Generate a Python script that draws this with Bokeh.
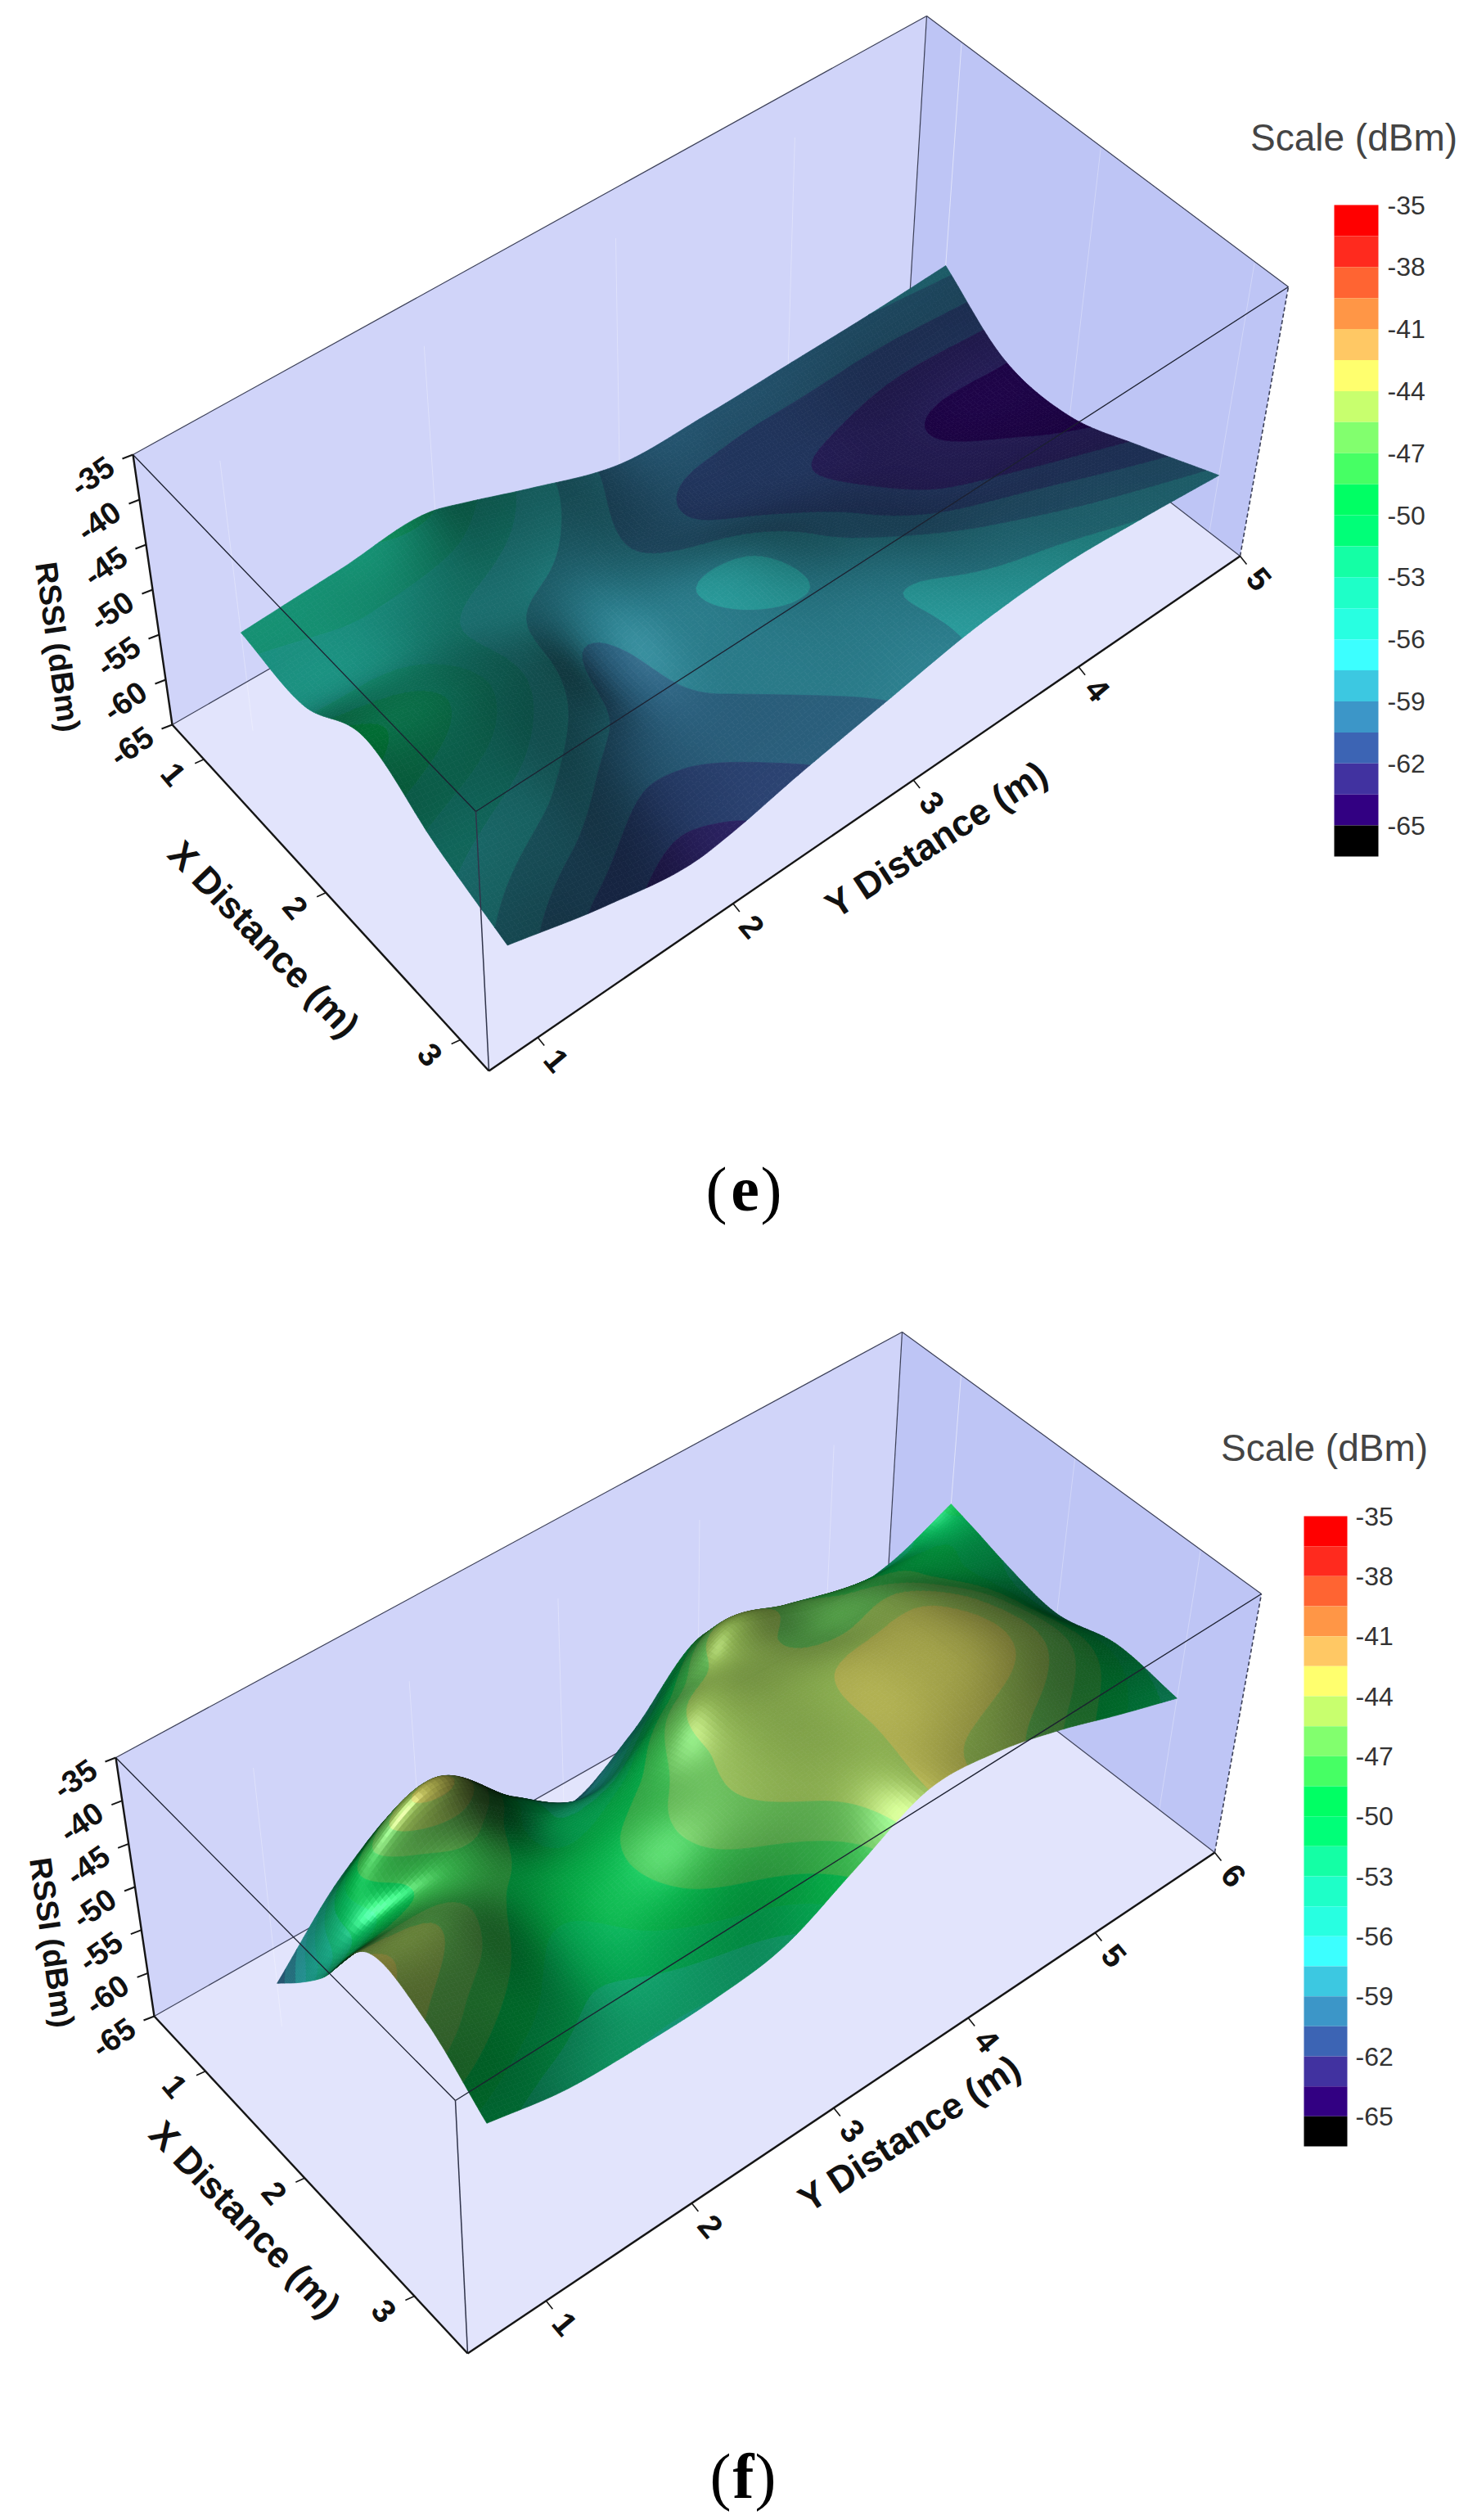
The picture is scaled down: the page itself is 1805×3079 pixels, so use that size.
import numpy as np
from bokeh.plotting import figure
from bokeh.models import Range1d, ColumnDataSource
from bokeh.core.properties import value
from bokeh.embed import file_html
from bokeh.resources import INLINE

# ---------- data ----------
SCALE_LABELS = [-35, -38, -41, -44, -47, -50, -53, -56, -59, -62, -65]
BAND_TOPS = [-35 - 1.5 * i for i in range(22)]
BAND_COLORS = ["#ff0000", "#ff2a1e", "#ff6432", "#ff9646", "#ffc864", "#ffff6e", "#c8ff6e",
               "#82ff6e", "#46ff64", "#00ff64", "#00ff78", "#14ffa5", "#1effc8", "#28ffe1",
               "#3cffff", "#3cc8e1", "#3c96c8", "#3c64b4", "#4132a0", "#320082", "#000000"]
Z_TICKS = [-35, -40, -45, -50, -55, -60, -65]

E_X = [1, 1.5, 2, 2.5, 3]
E_Y = [1, 1.5, 2, 2.15, 2.5, 3, 3.5, 4, 4.5, 5]
E_X_TICKS = [1, 2, 3]
E_Y_TICKS = [1, 2, 3, 4, 5]
E_RSSI = [
    [-54.1, -53.5, -53.0, -54.0, -56.5, -59.5, -59.6, -59.3, -59.0, -58.5],
    [-55.0, -55.0, -56.8, -57.3, -58.2, -60.2, -61.5, -62.4, -63.4, -63.4],
    [-51.0, -53.5, -57.7, -59.2, -58.0, -57.4, -59.6, -61.8, -63.0, -64.0],
    [-55.0, -57.0, -59.8, -59.9, -59.0, -57.8, -57.7, -59.0, -60.3, -61.5],
    [-58.0, -61.0, -62.7, -62.3, -60.8, -59.0, -57.3, -56.8, -57.5, -58.5],
]

F_X = [1, 1.25, 1.5, 2, 2.5, 3]
F_Y = [1, 1.5, 2, 2.5, 3, 3.5, 4, 4.5, 5, 5.5, 6]
F_X_TICKS = [1, 2, 3]
F_Y_TICKS = [1, 2, 3, 4, 5, 6]
F_RSSI = [
    [-60.0, -52.0, -48.0, -54.0, -59.0, -55.0, -48.5, -50.5, -53.0, -52.5, -49.6],
    [-57.0, -47.5, -43.5, -50.5, -55.0, -50.0, -44.5, -46.5, -48.5, -49.5, -50.5],
    [-53.5, -49.0, -46.5, -51.0, -51.0, -46.0, -45.0, -46.5, -46.5, -49.0, -51.5],
    [-44.2, -45.8, -49.0, -49.0, -47.0, -44.8, -44.3, -43.6, -43.8, -47.0, -52.8],
    [-45.5, -48.5, -51.0, -49.5, -47.0, -45.2, -44.2, -43.2, -43.5, -46.5, -51.3],
    [-50.6, -52.5, -53.0, -53.0, -52.0, -48.0, -44.0, -44.6, -46.8, -49.6, -52.2],
]

X_TITLE = "X Distance (m)"
Y_TITLE = "Y Distance (m)"
Z_TITLE = "RSSI (dBm)"
SCALE_TITLE = "Scale (dBm)"

# ---------- layout ----------
E_BOX = dict(LF=(210, 885), FF=(597, 1308), RF=(1515, 679), BF=(1111, 367),
             LT=(162, 555), FT=(581, 991), RT=(1574, 350), BT=(1132, 19),
             ufrac=[.10, .485, .91], vfrac=[.065, .325, .565, .785, 1.0],
             xtitle=(322, 1147), ytitle=(1144, 1025), ztitle=(70, 790),
             bar=(1630, 1684, 250, 1046), sx=1654, sy=167, lx=1695, cap=(875, 910, 942), capy=1453, cap_t="e",
             spec=0.10, diff=0.58)
F_BOX = dict(LF=(188, 2463), FF=(571, 2875), RF=(1484, 2263), BF=(1083, 1954),
             LT=(141, 2147), FT=(556, 2566), RT=(1541, 1947), BT=(1102, 1627),
             ufrac=[.163, .48, .83], vfrac=[.105, .30, .49, .67, .84, 1.0],
             xtitle=(299, 2711), ytitle=(1111, 2606), ztitle=(63, 2373),
             bar=(1593, 1646, 1852, 2622), sx=1618, sy=1768, lx=1656, cap=(880, 908, 935), capy=3025, cap_t="f",
             spec=0.36, diff=0.66)

NU, NV = 90, 180
FONT = value("Liberation Sans")


def hermite(xk, fk, xq):
    """Smooth the surface between the read values for drawing (along axis 0)."""
    xk = np.asarray(xk, float)
    fk = np.asarray(fk, float)
    d = np.gradient(fk, xk, axis=0)
    i = np.clip(np.searchsorted(xk, xq) - 1, 0, len(xk) - 2)
    h = xk[i + 1] - xk[i]
    t = (xq - xk[i]) / h
    shape = (-1,) + (1,) * (fk.ndim - 1)
    t = t.reshape(shape)
    h = h.reshape(shape)
    return ((2*t**3 - 3*t**2 + 1) * fk[i] + (t**3 - 2*t**2 + t) * h * d[i]
            + (-2*t**3 + 3*t**2) * fk[i + 1] + (t**3 - t**2) * h * d[i + 1])


def make_proj(b, xticks, yticks):
    cx = np.polyfit(xticks, b["ufrac"], 2)
    cy = np.polyfit(yticks, b["vfrac"], 2)
    A = {k: np.array(b[k], float) for k in ("LF", "FF", "RF", "BF", "LT", "FT", "RT", "BT")}

    def proj(x, y, z):
        u = np.polyval(cx, x)
        v = np.polyval(cy, y)
        return proj_uv(u, v, (np.asarray(z, float) + 65) / 30)

    def proj_uv(u, v, w):
        out = []
        for c in (0, 1):
            fl = (1-u)*(1-v)*A["LF"][c] + u*(1-v)*A["FF"][c] + u*v*A["RF"][c] + (1-u)*v*A["BF"][c]
            tp = (1-u)*(1-v)*A["LT"][c] + u*(1-v)*A["FT"][c] + u*v*A["RT"][c] + (1-u)*v*A["BT"][c]
            out.append(fl + (tp - fl) * w)
        return out[0], out[1]
    return proj, proj_uv


def soften(a, w=9):
    pad = w // 2
    b = np.pad(a, pad, mode="edge")
    ker = np.ones(w) / w
    b = np.apply_along_axis(lambda r: np.convolve(r, ker, "same"), 0, b)
    b = np.apply_along_axis(lambda r: np.convolve(r, ker, "same"), 1, b)
    return b[pad:-pad, pad:-pad]


def shade(zx, zy, gain, diff):
    k = 0.05
    n = np.stack([-zx * k, -zy * k, np.ones_like(zx)], -1)
    n /= np.linalg.norm(n, axis=-1, keepdims=True)
    L = np.array([0.0, -0.45, 1.0])
    L /= np.linalg.norm(L)
    d = np.clip((n * L).sum(-1), 0, 1)
    V = np.array([0.3, -0.35, 1.0])
    V /= np.linalg.norm(V)
    view = np.clip((n * V).sum(-1), 0, 1)
    rim = np.clip(view / 0.6, 0, 1) ** 2
    return (0.05 + diff * d**2) * rim, d**70 * gain + d**8 * 0.04


def rgb(h):
    return np.array([int(h[i:i+2], 16) for i in (1, 3, 5)], float)


PAL = np.array([rgb(c) for c in BAND_COLORS])


def clip_band(poly, lo, hi):
    """Cut a mesh cell (x, y, z vertices) down to one colour band."""
    def cut(pts, lim, keep_above):
        out = []
        n = len(pts)
        for a in range(n):
            p0, p1 = pts[a], pts[(a + 1) % n]
            in0 = p0[2] >= lim if keep_above else p0[2] <= lim
            in1 = p1[2] >= lim if keep_above else p1[2] <= lim
            if in0:
                out.append(p0)
            if in0 != in1:
                t = (lim - p0[2]) / (p1[2] - p0[2])
                out.append(tuple(p0[c] + t * (p1[c] - p0[c]) for c in range(3)))
        return out
    pts = cut(poly, lo, True)
    if pts:
        pts = cut(pts, hi, False)
    return pts


p = figure(width=1797, height=3071, x_range=Range1d(0, 1797), y_range=Range1d(3071, 0),
           output_backend="svg", toolbar_location=None, min_border=0)
p.axis.visible = False
p.grid.visible = False
p.outline_line_color = None
p.background_fill_color = "white"
p.border_fill_color = "white"


def text(x, y, t, size, angle=0.0, bold=False, color="#111111", font=FONT, align="center"):
    p.text(x=[x], y=[y], text=[t], angle=[np.deg2rad(angle)], text_align=align, text_baseline="middle",
           text_font=font, text_font_size=value(f"{size}px"), text_color=color,
           text_font_style="bold" if bold else "normal")


def panel(b, X, Y, RSSI, xticks, yticks):
    proj, proj_uv = make_proj(b, xticks, yticks)
    LF, FF, RF, BF, LT, FT, RT, BT = [b[k] for k in ("LF", "FF", "RF", "BF", "LT", "FT", "RT", "BT")]
    # walls and floor
    p.patch([LF[0], BF[0], BT[0], LT[0]], [LF[1], BF[1], BT[1], LT[1]], fill_color="#d0d4f9", line_color=None)
    p.patch([BF[0], RF[0], RT[0], BT[0]], [BF[1], RF[1], RT[1], BT[1]], fill_color="#bec5f5", line_color=None)
    p.patch([LF[0], FF[0], RF[0], BF[0]], [LF[1], FF[1], RF[1], BF[1]], fill_color="#e2e4fc", line_color=None)
    # faint wall grid
    gx, gy = [], []
    for yt in yticks:
        a = proj(np.array(X[0] - 0.0), np.array(yt), -65.0)
        c = proj(np.array(X[0] - 0.0), np.array(yt), -35.0)
        gx.append([a[0], c[0]]); gy.append([a[1], c[1]])
    for xt in xticks:
        a = proj(np.array(xt), np.array(Y[-1]), -65.0)
        c = proj(np.array(xt), np.array(Y[-1]), -35.0)
        gx.append([a[0], c[0]]); gy.append([a[1], c[1]])
    p.multi_line(gx, gy, line_color="white", line_alpha=0.3, line_width=1)
    # back edges
    edge = "#3c4058"
    for s, e in ((LT, BT), (BT, RT), (LF, BF), (BF, RF), (BF, BT)):
        p.line([s[0], e[0]], [s[1], e[1]], line_color=edge, line_width=1.2)
    p.line([RF[0], RT[0]], [RF[1], RT[1]], line_color=edge, line_width=1.6, line_dash="5 3")
    # surface
    xq = np.linspace(X[0], X[-1], NU + 1)
    yq = np.linspace(Y[0], Y[-1], NV + 1)
    z = hermite(X, np.array(RSSI, float), xq)
    z = hermite(Y, z.T, yq).T
    zx, zy = np.gradient(z, xq, yq)
    zx, zy = soften(zx), soften(zy)
    xx, yy = np.meshgrid(xq, yq, indexing="ij")
    px, py = proj(xx, yy, z)
    sh, sp = shade((zx[:-1, :-1] + zx[1:, 1:]) / 2, (zy[:-1, :-1] + zy[1:, 1:]) / 2, b["spec"], b["diff"])
    xs, ys, cs = [], [], []

    def add(pts, k, i, j):
        xs.append([round(q[0], 1) for q in pts])
        ys.append([round(q[1], 1) for q in pts])
        c = np.clip(PAL[k] * sh[i, j] + 255 * sp[i, j], 0, 255).astype(int)
        cs.append("#%02x%02x%02x" % tuple(c))

    for i in range(NU):                 # far rows first
        for j in range(NV - 1, -1, -1):
            corners = [(i, j), (i + 1, j), (i + 1, j + 1), (i, j + 1)]
            poly = [(float(px[c]), float(py[c]), float(z[c])) for c in corners]
            zs = [q[2] for q in poly]
            k0 = int(np.clip(np.floor((-35 - max(zs)) / 1.5), 0, 20))
            k1 = int(np.clip(np.floor((-35 - min(zs)) / 1.5), 0, 20))
            if k0 == k1:
                add(poly, k0, i, j)
            else:
                for k in range(k0, k1 + 1):
                    hi = -35 - 1.5 * k if k > 0 else 100.0
                    lo = hi - 1.5 if k < 20 else -200.0
                    if k == 0:
                        lo = -36.5
                    pts = clip_band(poly, lo, hi)
                    if len(pts) >= 3:
                        add(pts, k, i, j)
    src = ColumnDataSource(dict(xs=xs, ys=ys, c=cs))
    p.patches("xs", "ys", source=src, fill_color="c", line_color="c", line_width=0.7)
    # front edges over the surface
    for s, e in ((LT, FT), (FT, RT)):
        p.line([s[0], e[0]], [s[1], e[1]], line_color="#1c2030", line_width=1.3)
    p.line([FT[0], FF[0]], [FT[1], FF[1]], line_color="#30344a", line_width=1.5)
    # axes
    for s, e in ((LT, LF), (LF, FF), (FF, RF)):
        p.line([s[0], e[0]], [s[1], e[1]], line_color="#151515", line_width=2.4)
    # ticks + labels
    for zt in Z_TICKS:
        a = proj_uv(0.0, 0.0, (zt + 65) / 30)
        p.line([a[0], a[0] - 13], [a[1], a[1] + 5], line_color="#151515", line_width=2)
        text(a[0] - 50, a[1] + 26, str(zt), 38, 35, True)
    for xt, u in zip(xticks, b["ufrac"]):
        a = proj_uv(u, 0.0, 0.0)
        p.line([a[0], a[0] - 11], [a[1], a[1] + 5], line_color="#151515", line_width=1.6)
        text(a[0] - 37, a[1] + 18, str(xt), 40, -50, True)
    for yt, v in zip(yticks, b["vfrac"]):
        a = proj_uv(1.0, v, 0.0)
        p.line([a[0], a[0] + 8], [a[1], a[1] + 10], line_color="#151515", line_width=1.6)
        text(a[0] + 23, a[1] + 28, str(yt), 40, -50, True)
    text(*b["xtitle"], X_TITLE, 45, -46, True)
    text(*b["ytitle"], Y_TITLE, 45, 33, True)
    text(*b["ztitle"], Z_TITLE, 38, -82, True)
    # colour scale
    l, r, t, bt = b["bar"]
    hh = (bt - t) / 31.5
    tops = [t + (-35 - v) * hh for v in BAND_TOPS[:-1]]
    bots = [t + (-35 - v) * hh for v in BAND_TOPS[1:]]
    p.quad(left=l, right=r, top=tops, bottom=bots, fill_color=BAND_COLORS, line_color=None)
    for v in SCALE_LABELS:
        text(b["lx"], t + (-35 - v) * hh, str(v), 32, 0, False, "#333333", align="left")
    text(b["sx"], b["sy"], SCALE_TITLE, 46, 0, False, "#444444")
    # caption
    serif = value("Liberation Serif")
    c1, c2, c3 = b["cap"]
    text(c1, b["capy"], "(", 78, 0, False, "black", serif)
    text(c2, b["capy"], b["cap_t"], 78, 0, True, "black", serif)
    text(c3, b["capy"], ")", 78, 0, False, "black", serif)


panel(E_BOX, E_X, E_Y, E_RSSI, E_X_TICKS, E_Y_TICKS)
panel(F_BOX, F_X, F_Y, F_RSSI, F_X_TICKS, F_Y_TICKS)

open("out.html", "w").write(file_html(p, INLINE))
